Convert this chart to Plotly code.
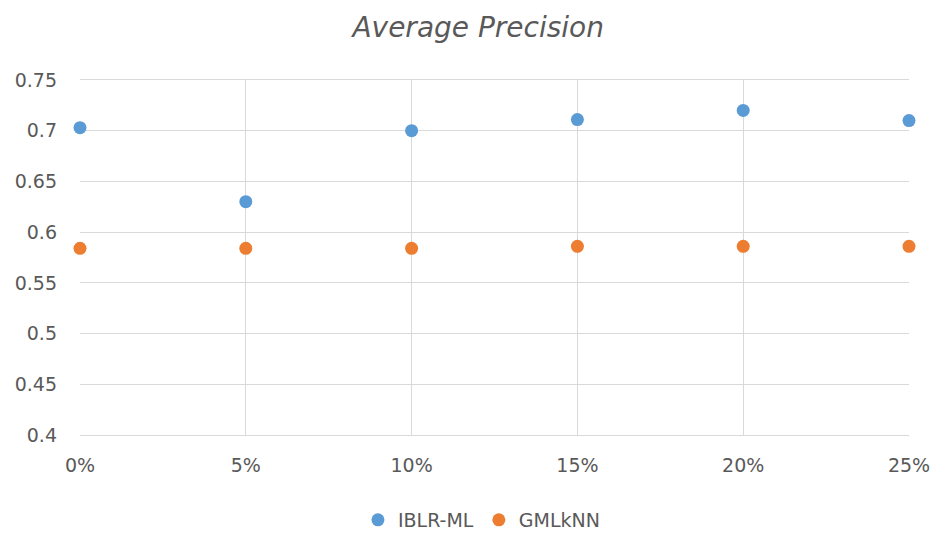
import plotly.graph_objects as go

x_vals = [0, 5, 10, 15, 20, 25]
x_labels = ["0%", "5%", "10%", "15%", "20%", "25%"]
iblr_ml = [0.703, 0.630, 0.700, 0.711, 0.720, 0.710]
gmlknn = [0.584, 0.584, 0.584, 0.586, 0.586, 0.586]
y_ticks = [0.4, 0.45, 0.5, 0.55, 0.6, 0.65, 0.7, 0.75]
y_labels = ["0.4", "0.45", "0.5", "0.55", "0.6", "0.65", "0.7", "0.75"]

FONT = "DejaVu Sans, sans-serif"
GRAY = "#595959"

fig = go.Figure()
fig.add_trace(go.Scatter(x=x_vals, y=iblr_ml, mode="markers", name="IBLR-ML",
                         marker=dict(color="#5B9BD5", size=13), cliponaxis=False))
fig.add_trace(go.Scatter(x=x_vals, y=gmlknn, mode="markers", name="GMLkNN",
                         marker=dict(color="#ED7D31", size=13), cliponaxis=False))

fig.update_layout(
    width=934, height=534,
    margin=dict(l=80, r=25, t=80, b=99, autoexpand=False),
    paper_bgcolor="white", plot_bgcolor="white",
    font=dict(family=FONT, color=GRAY, size=19),
    title=dict(text="<i>Average Precision</i>", x=0.512, xref="container", xanchor="center",
               y=1 - 27 / 534, yref="container", yanchor="middle",
               font=dict(size=28, color=GRAY, family=FONT)),
    legend=dict(orientation="h", x=0.516, xref="container", xanchor="center",
                y=(534 - 520) / 534, yref="container", yanchor="middle",
                font=dict(size=19, color=GRAY), itemwidth=30),
    showlegend=True,
)
fig.update_xaxes(range=[0, 25], tickvals=x_vals, ticktext=x_labels,
                 showgrid=True, gridcolor="#D9D9D9", gridwidth=1,
                 zeroline=False, showline=True, linecolor="#D9D9D9", mirror=True,
                 ticklabelstandoff=13, tickfont=dict(size=19, color=GRAY))
fig.update_yaxes(range=[0.4, 0.75], tickvals=y_ticks, ticktext=y_labels,
                 showgrid=True, gridcolor="#D9D9D9", gridwidth=1,
                 zeroline=False, showline=False,
                 ticklabelstandoff=22, tickfont=dict(size=19, color=GRAY))

fig.write_html("out.html")
